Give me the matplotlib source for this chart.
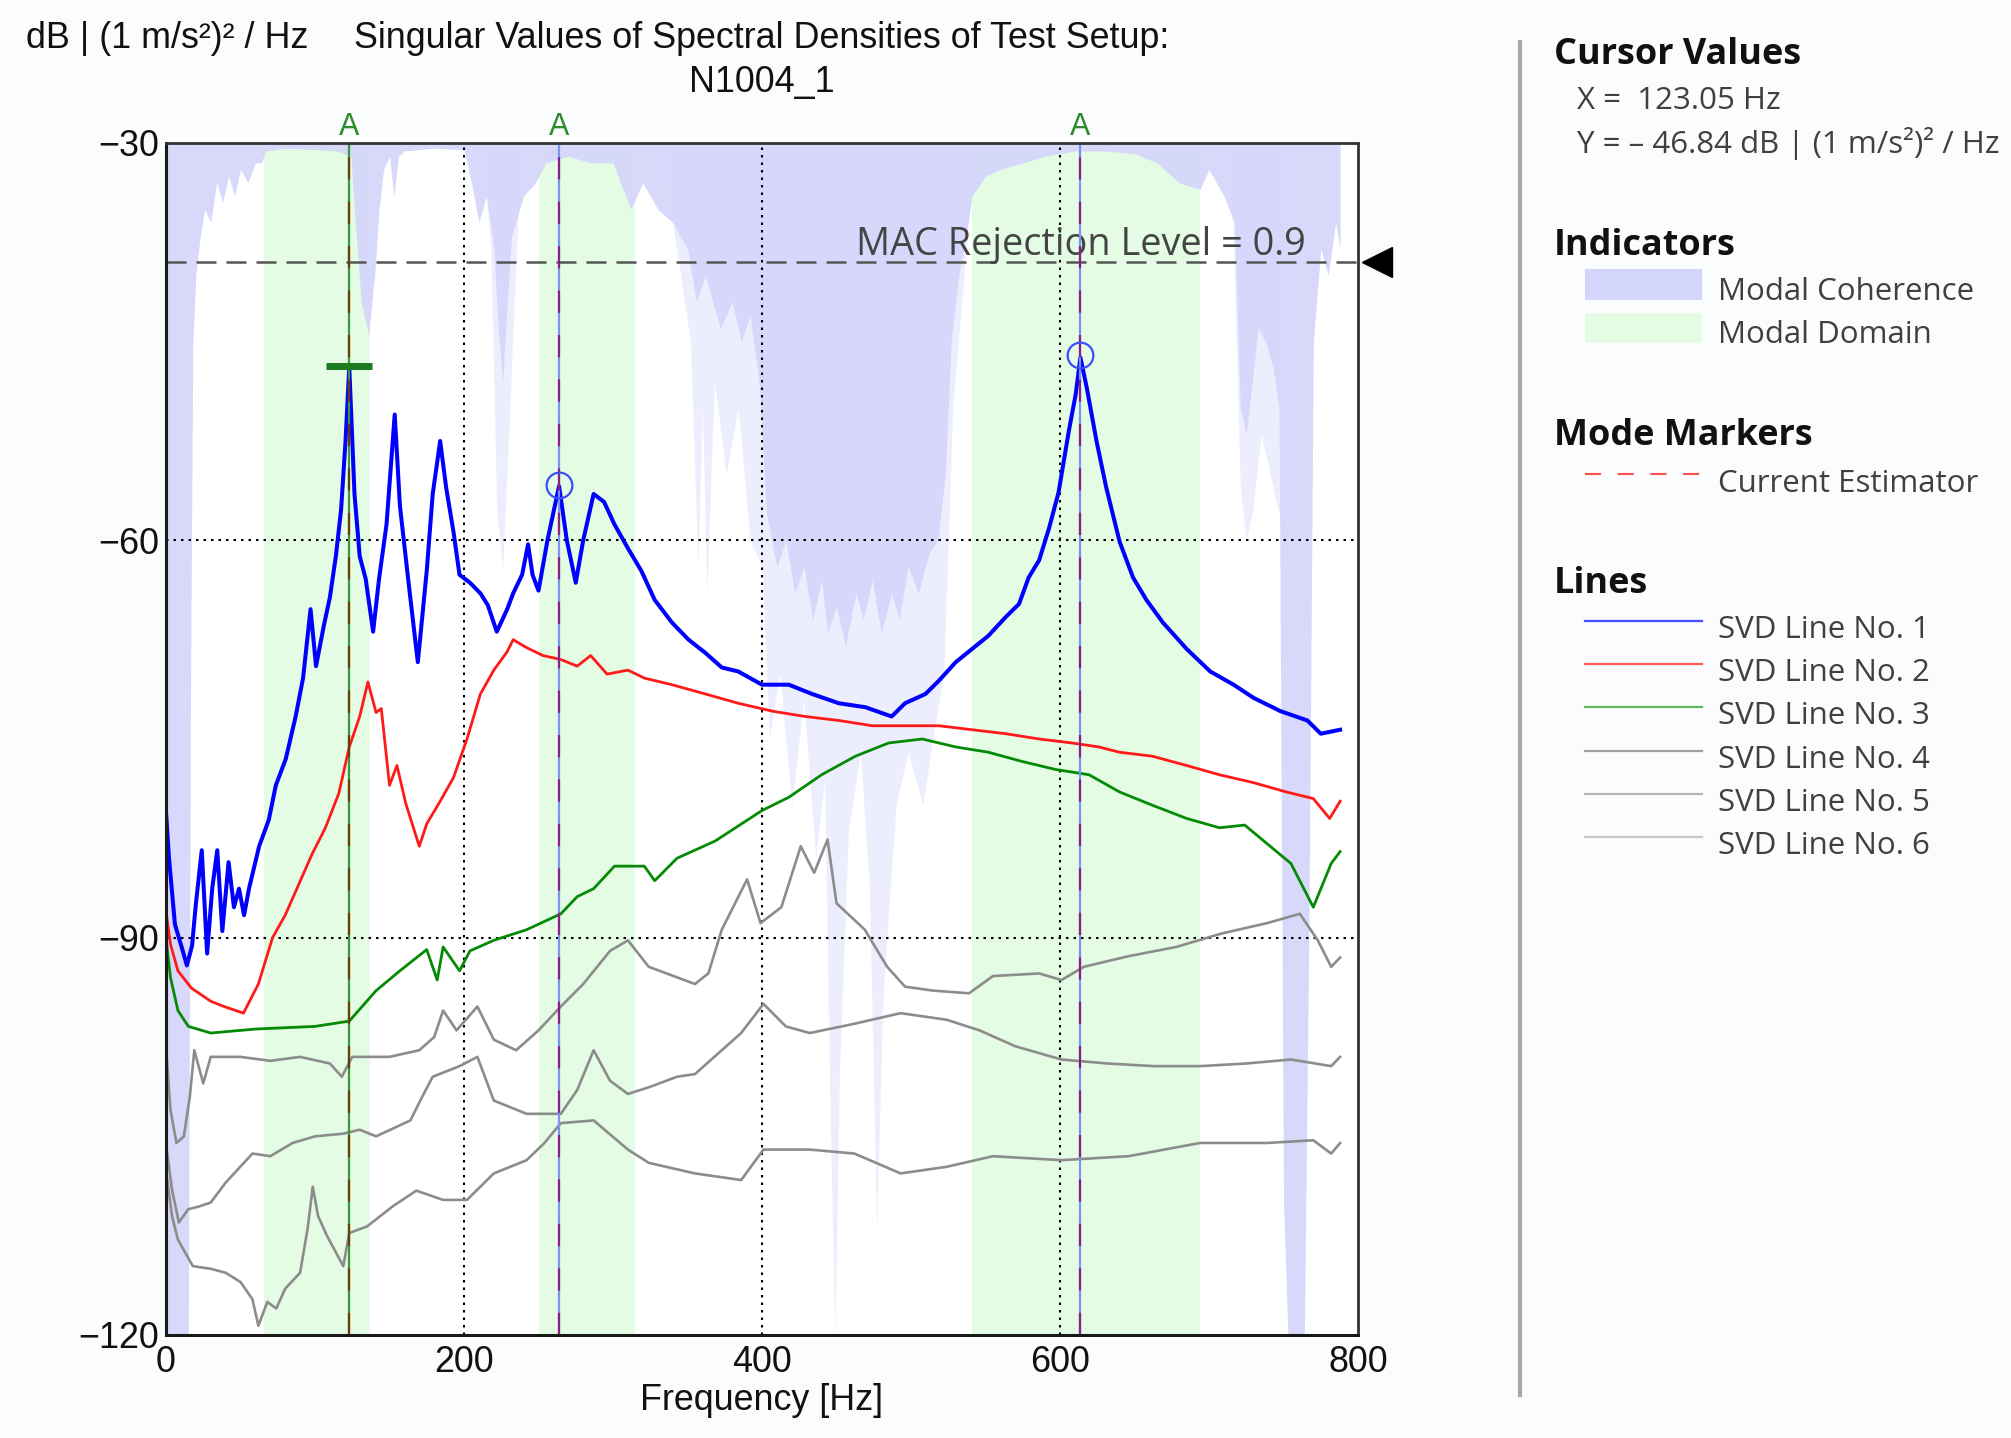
import matplotlib
matplotlib.use("Agg")
import matplotlib.pyplot as plt
from matplotlib.lines import Line2D
from matplotlib.patches import Rectangle
from matplotlib.transforms import blended_transform_factory

# ---------------------------------------------------------------- data
x_ticks = [0, 200, 400, 600, 800]
y_ticks = [-120, -90, -60, -30]

svd1_f = [0, 2, 6, 11, 14, 17.5, 20, 24, 27.6, 31, 34.4, 37.8, 42, 45.6, 49, 52.4, 55.7, 62.5, 69, 73.7,
          80.4, 87, 92, 97, 100.7, 106, 110, 114, 117.5, 120.5, 123, 126.5, 130, 134, 139, 143, 148, 153.5, 157, 162.5,
          169, 175, 179, 184, 188, 193, 197, 204, 211, 216, 222, 229, 233, 239, 243, 246, 250, 256, 263.8, 269,
          275, 280, 287, 294, 301, 310, 319, 328, 339.5, 350.7, 362, 373, 384, 400, 418, 433.6, 451.5, 469.4, 487, 496,
          509.7, 518.7, 530, 541, 552, 563.5, 572.5, 579, 586, 592.6, 599, 606, 610.5, 613.7, 618, 624.5, 631, 640, 649, 658,
          669, 685, 700.8, 716.5, 730, 748, 766, 775, 788]
svd1_db = [-80.5, -84, -89, -90.9, -92.1, -90.6, -87.5, -83.4, -91.2, -86.3, -83.4, -89.5, -84.3, -87.7, -86.3, -88.3, -86.3, -83.1, -81.1, -78.5,
           -76.5, -73.3, -70.4, -65.2, -69.5, -66.4, -64.3, -61.2, -57.7, -52.5, -46.9, -56.5, -61.2, -62.9, -66.9, -62.9, -58.8, -50.5, -57.4, -62.9,
           -69.2, -62.3, -56.5, -52.5, -56, -59.4, -62.6, -63.2, -64, -64.9, -66.9, -65.2, -64, -62.6, -60.3, -62.6, -63.8, -60, -55.9, -60,
           -63.2, -60, -56.5, -57.1, -58.8, -60.6, -62.3, -64.5, -66.2, -67.5, -68.5, -69.6, -69.9, -70.9, -70.9, -71.6, -72.3, -72.6, -73.3, -72.3,
           -71.6, -70.6, -69.2, -68.2, -67.2, -65.8, -64.8, -62.8, -61.5, -59.1, -56.4, -51.7, -49, -46.2, -48.5, -52.5, -56, -60.1, -62.8, -64.5,
           -66.2, -68.2, -69.9, -70.9, -71.9, -72.9, -73.6, -74.6, -74.3]

svd2_f = [0, 3, 8, 17, 30, 39, 52, 62, 71.5, 80, 89, 98, 107, 116, 123, 130, 135.5, 141, 144.5, 150,
          155, 161, 170, 175, 184, 193, 202, 211, 220, 229, 233, 242, 253, 265, 276, 285, 296, 310, 321, 339.5,
          362, 384, 407, 429, 451.5, 474, 496, 518.7, 541, 563.5, 586, 608, 626, 640, 662, 685, 707, 730, 752, 770,
          781, 788]
svd2_db = [-88, -90.5, -92.5, -93.8, -94.8, -95.2, -95.7, -93.5, -90, -88.3, -86, -83.7, -81.7, -79.1, -75.6, -73.3, -70.7, -73, -72.7, -78.5,
           -77, -79.9, -83.1, -81.4, -79.7, -77.9, -75, -71.6, -69.8, -68.4, -67.5, -68.1, -68.7, -69, -69.5, -68.7, -70.1, -69.8, -70.4, -70.9,
           -71.6, -72.3, -72.9, -73.3, -73.6, -74, -74, -74, -74.3, -74.6, -75, -75.3, -75.6, -76, -76.3, -77, -77.7, -78.3, -79, -79.5,
           -81, -79.7]

svd3_f = [0, 3, 8, 15, 30, 60, 100, 123, 141, 157, 175, 182, 186, 197, 204, 220, 242, 265, 276, 287,
          301, 321, 328, 343, 368.6, 400, 418, 440, 462.7, 485, 507.5, 530, 552, 574.7, 597, 619.5, 640, 662, 685, 707,
          724, 740, 755, 770, 782, 788]
svd3_db = [-90, -93, -95.5, -96.7, -97.2, -96.9, -96.7, -96.3, -94, -92.5, -90.9, -93.2, -90.7, -92.5, -91, -90.2, -89.4, -88.2, -86.9, -86.3,
           -84.6, -84.6, -85.7, -84, -82.7, -80.4, -79.4, -77.7, -76.3, -75.3, -75, -75.6, -76, -76.7, -77.3, -77.7, -79, -80, -81, -81.7,
           -81.5, -83, -84.4, -87.7, -84.4, -83.5]

svd4_f = [0.5, 3, 7, 12, 16, 19, 25, 30, 50, 70, 90, 110, 118, 125, 150, 170, 180, 186, 195, 209,
          220, 235, 250, 265, 280, 298, 310, 324, 355, 364, 373, 390, 399, 413, 426, 435, 444, 450, 469, 484,
          496, 515, 539, 555, 586, 601, 616, 646, 678, 708, 739, 761, 773, 782, 788]
svd4_db = [-99, -103, -105.5, -105, -102, -98.5, -101, -99, -99, -99.3, -99, -99.5, -100.5, -99, -99, -98.5, -97.5, -95.5, -97, -95.2,
           -97.7, -98.5, -97, -95.2, -93.5, -91, -90.2, -92.2, -93.5, -92.7, -89.4, -85.6, -88.9, -87.7, -83.1, -85.1, -82.6, -87.4, -89.4, -92.2,
           -93.7, -94, -94.2, -92.9, -92.7, -93.2, -92.2, -91.4, -90.7, -89.7, -88.9, -88.2, -90.2, -92.2, -91.5]

svd5_f = [0.5, 4, 8.6, 15, 22, 30, 40, 58, 70, 85, 100, 119, 130, 141, 164, 172, 179, 197, 209, 220,
          242, 265, 276, 287, 298, 310, 324, 343, 355, 386, 401, 416, 432, 462, 493, 524, 546, 570, 601, 632,
          663, 694, 725, 755, 782, 788]
svd5_db = [-106, -109, -111.5, -110.5, -110.3, -110, -108.5, -106.3, -106.5, -105.5, -105, -104.8, -104.5, -105, -103.8, -102, -100.5, -99.7, -99, -102.3,
           -103.3, -103.3, -101.5, -98.5, -100.8, -101.8, -101.3, -100.5, -100.3, -97.2, -95, -96.7, -97.2, -96.5, -95.7, -96.2, -97, -98.2, -99.2, -99.5,
           -99.7, -99.7, -99.5, -99.2, -99.7, -99]

svd6_f = [0.5, 4, 8, 18, 30, 40, 50, 58, 62, 68, 74, 80, 90, 95, 98.5, 102, 108, 119, 123, 135,
          152, 168, 186, 202, 220, 242, 254, 265, 287, 310, 324, 355, 386, 401, 432, 462, 493, 524, 555, 601,
          646, 694, 739, 770, 782, 788]
svd6_db = [-108, -111, -112.8, -114.8, -115, -115.3, -116, -117.3, -119.3, -117.5, -118, -116.5, -115.3, -112, -108.8, -111, -112.5, -114.8, -112.3, -111.8,
           -110.3, -109.1, -109.8, -109.8, -107.8, -106.8, -105.5, -104, -103.8, -106, -107, -107.8, -108.3, -106, -106, -106.3, -107.8, -107.3, -106.5, -106.8,
           -106.5, -105.5, -105.5, -105.3, -106.3, -105.5]

# lower edge of the modal-coherence indicator (filled down from the top of the plot)
coh_f = [0, 15, 16.5, 18, 20, 23, 26, 30, 34, 38, 42, 46, 50, 55, 60, 64, 67, 80, 100, 115,
         124, 127, 131, 136, 140, 143, 146, 150, 153, 156, 160, 180, 200, 205, 210, 215, 220, 223, 226, 229,
         232, 240, 248, 255, 270, 285, 300, 305, 312, 320, 330, 340, 350, 356, 362, 372, 380, 386, 392, 398,
         403, 410, 416, 422, 428, 434, 440, 444, 450, 456, 463, 468, 474, 480, 487, 492, 498, 505, 512, 518,
         523, 527, 532, 537, 541, 550, 560, 575, 590, 610, 630, 650, 665, 680, 694, 700, 710, 717, 721, 725,
         729, 733, 738, 743, 747, 750, 753, 764, 767, 770, 775, 780, 785, 788]
coh_db = [-120, -120, -70, -45, -40, -37, -35, -36, -33, -34.5, -32.5, -34, -32, -33, -31.5, -31.5, -30.6, -30.4, -30.5, -30.6,
          -31, -36, -42, -44.5, -40, -35, -32, -31, -34, -31, -30.6, -30.4, -30.5, -33, -36, -34, -38, -44, -48, -42,
          -37, -34, -33, -31.5, -31, -31.5, -31.5, -33, -35, -33, -35, -36, -38, -42, -40, -44, -42, -45, -43, -48,
          -58, -62, -60, -64, -62, -66, -63, -67, -65, -68, -64, -66, -63, -67, -64, -66, -62, -64, -61, -60,
          -55, -45, -40, -37, -34, -32.5, -32, -31.5, -31, -30.6, -30.6, -30.8, -31.5, -33, -33.5, -32, -34, -36, -50, -52,
          -48, -44, -45, -47, -50, -110, -120, -120, -90, -45, -38, -40, -36, -38]
# faint, deeper streaks of the same indicator
streak_f = [212, 218, 222, 226, 230, 236, 238, 338, 340, 352, 357, 360, 363, 368, 376, 384, 392, 400,
            405, 412, 420, 428, 436, 442, 446, 449, 452, 458, 466, 472, 477, 481, 485, 490, 498, 508,
            516, 522, 528, 540, 542, 712, 716, 721, 725, 729, 735, 741, 747, 750]
streak_db = [-30, -38, -58, -62, -52, -36, -30, -30, -36, -45, -62, -50, -64, -48, -55, -50, -60, -62,
             -75, -70, -80, -72, -84, -78, -105, -120, -100, -82, -76, -86, -112, -95, -88, -80, -76, -80,
             -74, -70, -50, -34, -30, -30, -36, -56, -60, -58, -52, -55, -58, -60]

domain_lo = [66, 250, 541]
domain_hi = [137, 315, 694]

modes_f = [123.05, 263.8, 613.7]
mode_labels = ["A", "A", "A"]
circle_f = [263.8, 613.7]
circle_db = [-55.8, -46.0]
cursor_f = 123.05
cursor_db = -46.84
mac_level = 0.9

series_names = ["SVD Line No. 1", "SVD Line No. 2", "SVD Line No. 3",
                "SVD Line No. 4", "SVD Line No. 5", "SVD Line No. 6"]

# ---------------------------------------------------------------- style
W, H = 2011, 1438
BG = "#fbfcfd"
LAV = "#d4d5fa"
DOM = "#e4fbe4"
SANS = ["Liberation Sans", "DejaVu Sans"]
UI = ["Open Sans", "DejaVu Sans"]
plt.rcParams["font.family"] = SANS
FS = 25.8


def fx(px):
    return px / W


def fy(py):
    return 1 - py / H


fig = plt.figure(figsize=(W / 100, H / 100), dpi=100, facecolor=BG)
ax = fig.add_axes([fx(166), fy(1335), (1358 - 166) / W, (1335 - 143) / H])
ax.set_facecolor("white")
ax.set_xlim(0, 800)
ax.set_ylim(-120, -30)

# indicators
for lo, hi in zip(domain_lo, domain_hi):
    ax.axvspan(lo, hi, color=DOM, lw=0, zorder=0.5)
ax.fill_between(streak_f, streak_db, -30, color=LAV, alpha=0.4, lw=0, zorder=0.9)
ax.fill_between(coh_f, coh_db, -30, color=LAV, alpha=0.92, lw=0, zorder=1)

# grid
for xv in x_ticks[1:-1]:
    ax.axvline(xv, color="black", lw=1.5, ls=(0, (1.2, 2.4)), zorder=2)
for yv in y_ticks[1:-1]:
    ax.axhline(yv, color="black", lw=1.5, ls=(0, (1.2, 2.4)), zorder=2)

# MAC rejection level
mac_db = -120 + mac_level * 90
ax.axhline(mac_db, color="#555555", lw=1.8, ls=(0, (8, 4)), zorder=2.2)
ax.text(764.8, -38.45, f"MAC Rejection Level = {mac_level}", ha="right", va="baseline",
        fontsize=27.3, color="#444444", family=UI, zorder=2.3)
tr_ax_data = blended_transform_factory(ax.transAxes, ax.transData)
ax.plot([1.0159], [mac_db], marker="<", ms=21.6, color="black", transform=tr_ax_data,
        clip_on=False, zorder=9)

# SVD lines
ax.plot(svd6_f, svd6_db, color="#8c8c8c", lw=1.9, zorder=3)
ax.plot(svd5_f, svd5_db, color="#8c8c8c", lw=1.9, zorder=3)
ax.plot(svd4_f, svd4_db, color="#8c8c8c", lw=1.9, zorder=3)
ax.plot(svd3_f, svd3_db, color="#058a05", lw=2.0, zorder=4)
ax.plot(svd2_f, svd2_db, color="#ff1a1a", lw=2.0, zorder=5)
ax.plot(svd1_f, svd1_db, color="#0000ff", lw=2.9, zorder=6)

# mode markers
tr_data_ax = blended_transform_factory(ax.transData, ax.transAxes)
for i, (fm, lab) in enumerate(zip(modes_f, mode_labels)):
    base = "#3a9a3a" if i == 0 else "#7b93f5"
    dash = "#6b3d05" if i == 0 else "#8b1f82"
    ax.axvline(fm, color=base, lw=1.6, zorder=7)
    ax.axvline(fm, color=dash, lw=1.6, ls=(0, (10, 10)), zorder=7.1)
    ax.text(fm, 1.0067, lab, transform=tr_data_ax, ha="center", va="baseline",
            fontsize=22, color="#2e8b2e", clip_on=False)
ax.plot(circle_f, circle_db, "o", mfc="none", mec="#3c4cff", ms=18.5, mew=1.6, zorder=8)
ax.plot([cursor_f - 15.4, cursor_f + 15.4], [cursor_db, cursor_db], color="#1e7a1e",
        lw=5, solid_capstyle="butt", zorder=8)

# axes decoration
ax.set_xticks(x_ticks)
ax.set_xticklabels([str(v) for v in x_ticks])
ax.set_yticks(y_ticks)
ax.set_yticklabels(["\u2212" + str(abs(v)) for v in y_ticks])
ax.tick_params(axis="both", length=0, labelsize=FS, colors="#111111")
ax.tick_params(axis="x", pad=7)
ax.tick_params(axis="y", pad=5)
for s in ["left", "bottom"]:
    ax.spines[s].set_linewidth(2.2)
    ax.spines[s].set_color("#1a1a1a")
for s in ["top", "right"]:
    ax.spines[s].set_linewidth(2.0)
    ax.spines[s].set_color("#333333")
for sp in ax.spines.values():
    sp.set_zorder(10)

fig.text(fx(762), fy(1410), "Frequency [Hz]", ha="center", va="baseline", fontsize=FS, color="#111111")
fig.text(fx(762), fy(48), "Singular Values of Spectral Densities of Test Setup:", ha="center",
         va="baseline", fontsize=FS, color="#111111")
fig.text(fx(762), fy(92), "N1004_1", ha="center", va="baseline", fontsize=FS, color="#111111")
fig.text(fx(26), fy(48), "dB | (1 m/s\u00b2)\u00b2 / Hz", ha="left", va="baseline", fontsize=FS,
         color="#111111")

# ---------------------------------------------------------------- side panel
fig.add_artist(Line2D([fx(1520), fx(1520)], [fy(42), fy(1395)], color="#a6a6a6", lw=3,
                      transform=fig.transFigure))

HEAD = dict(family=UI, fontweight="bold", fontsize=25.9, color="#111111", ha="left", va="baseline")
ENTRY = dict(family=UI, fontsize=22.5, color="#404040", ha="left", va="baseline")

fig.text(fx(1554), fy(64), "Cursor Values", **HEAD)
fig.text(fx(1577), fy(109), f"X =  {cursor_f:.2f} Hz", **ENTRY)
fig.text(fx(1577), fy(153), f"Y = \u2013 {abs(cursor_db):.2f} dB | (1 m/s\u00b2)\u00b2 / Hz", **ENTRY)

fig.text(fx(1554), fy(255), "Indicators", **HEAD)
fig.add_artist(Rectangle((fx(1585), fy(300)), (1702 - 1585) / W, (300 - 269) / H,
                         transform=fig.transFigure, color=LAV, lw=0))
fig.text(fx(1718), fy(300), "Modal Coherence", **ENTRY)
fig.add_artist(Rectangle((fx(1585), fy(343)), (1702 - 1585) / W, (343 - 313) / H,
                         transform=fig.transFigure, color=DOM, lw=0))
fig.text(fx(1718), fy(343), "Modal Domain", **ENTRY)

fig.text(fx(1554), fy(445), "Mode Markers", **HEAD)
fig.add_artist(Line2D([fx(1585), fx(1702)], [fy(474), fy(474)], color="#ff4d4d", lw=1.5,
                      ls=(0, (7.7, 8)), transform=fig.transFigure))
fig.text(fx(1718), fy(492), "Current Estimator", **ENTRY)

fig.text(fx(1554), fy(593), "Lines", **HEAD)
legend_colors = ["#4b4bff", "#ff5a5a", "#5cb85c", "#a0a0a0", "#b4b4b4", "#c8c8c8"]
for k, (name, col) in enumerate(zip(series_names, legend_colors)):
    yb = 638 + 43.2 * k
    fig.add_artist(Line2D([fx(1585), fx(1702)], [fy(yb - 17), fy(yb - 17)], color=col, lw=1.6,
                          transform=fig.transFigure))
    fig.text(fx(1718), fy(yb), name, **ENTRY)

fig.savefig("out.png", dpi=100, facecolor=BG)
